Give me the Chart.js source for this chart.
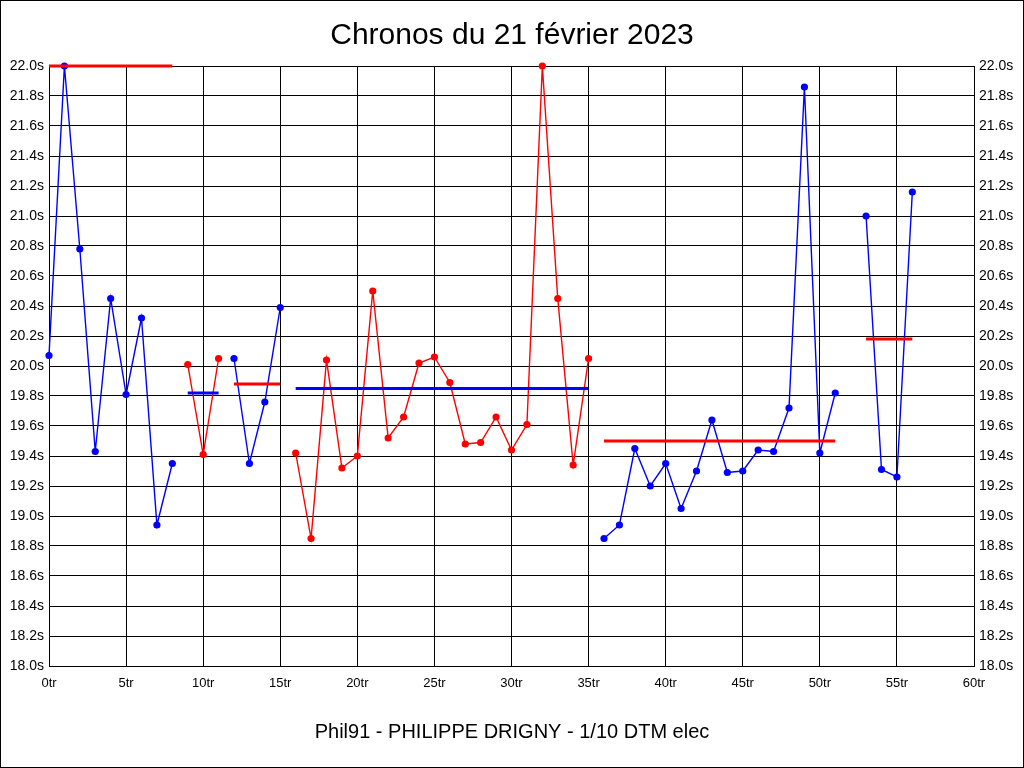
<!DOCTYPE html>
<html>
<head>
<meta charset="utf-8">
<script src="https://cdn.jsdelivr.net/npm/chart.js@4"></script>
<style>
  body { margin: 0; background: #fff; }
  canvas { display: block; }
</style>
</head>
<body>
<canvas id="chronoChart" width="1024" height="768"></canvas>
<script>
// Lap times, one array per stint
const stintStartLap = [0, 9, 12, 16, 36, 53];
const stint1Times = [20.07, 22.0, 20.78, 19.43, 20.45, 19.81, 20.32, 18.94, 19.35];
const stint2Times = [20.01, 19.41, 20.05];
const stint3Times = [20.05, 19.35, 19.76, 20.39];
const stint4Times = [19.42, 18.85, 20.04, 19.32, 19.40, 20.50, 19.52, 19.66, 20.02, 20.06,
                     19.89, 19.48, 19.49, 19.66, 19.44, 19.61, 22.0, 20.45, 19.34, 20.05];
const stint5Times = [18.85, 18.94, 19.45, 19.20, 19.35, 19.05, 19.30, 19.64, 19.29, 19.30,
                     19.44, 19.43, 19.72, 21.86, 19.42, 19.82];
const stint6Times = [21.00, 19.31, 19.26, 21.16];
const stintColors = ['#0000ff', '#ff0000', '#0000ff', '#ff0000', '#0000ff', '#0000ff'];

// Average line of each stint
const avgFrom = [0, 9, 12, 16, 36, 53];
const avgTo = [8, 11, 15, 35, 51, 56];
const avgTimes = [22.0, 19.82, 19.88, 19.85, 19.50, 20.18];
const avgColors = ['#ff0000', '#0000ff', '#ff0000', '#0000ff', '#ff0000', '#ff0000'];

const allStints = [stint1Times, stint2Times, stint3Times, stint4Times, stint5Times, stint6Times];

const datasets = [];
allStints.forEach((times, s) => {
    datasets.push({
        data: times.map((t, i) => ({ x: stintStartLap[s] + i, y: t })),
        borderColor: stintColors[s],
        backgroundColor: stintColors[s],
        borderWidth: 1.4,
        pointRadius: 3.6,
        pointBorderWidth: 0,
        pointHoverRadius: 3.6,
        tension: 0,
        clip: false,
        order: 2
    });
});
avgTimes.forEach((t, s) => {
    datasets.push({
        data: [{ x: avgFrom[s], y: t }, { x: avgTo[s], y: t }],
        borderColor: avgColors[s],
        borderWidth: 3,
        pointRadius: 0,
        clip: false,
        order: 1
    });
});

const fontFamily = 'Arial, "Liberation Sans", sans-serif';

const frame = {
    id: 'frame',
    beforeDraw(chart) {
        const c = chart.ctx;
        c.save();
        c.fillStyle = '#fff';
        c.fillRect(0, 0, chart.width, chart.height);
        c.restore();
    },
    afterDraw(chart) {
        const c = chart.ctx;
        c.save();
        c.strokeStyle = '#000';
        c.lineWidth = 1;
        c.strokeRect(0.5, 0.5, chart.width - 1, chart.height - 1);
        c.restore();
    }
};

const yTicks = {
    stepSize: 0.2,
    padding: 5,
    color: '#000',
    font: { family: fontFamily, size: 14 },
    callback: v => v.toFixed(1) + 's'
};

new Chart(document.getElementById('chronoChart').getContext('2d'), {
    type: 'line',
    data: { datasets },
    options: {
        responsive: false,
        animation: false,
        events: [],
        layout: { padding: 0 },
        scales: {
            x: {
                type: 'linear',
                min: 0,
                max: 60,
                grid: { color: '#000', drawTicks: false },
                border: { color: '#000' },
                ticks: {
                    stepSize: 5,
                    padding: 10,
                    color: '#000',
                    font: { family: fontFamily, size: 13 },
                    maxRotation: 0,
                    callback: v => v + 'tr'
                },
                afterFit: s => { s.height = 44.5; }
            },
            y: {
                position: 'left',
                min: 18,
                max: 22,
                grid: { color: '#000', drawTicks: false },
                border: { color: '#000' },
                ticks: yTicks,
                afterFit: s => { s.width = 49; }
            },
            y2: {
                position: 'right',
                min: 18,
                max: 22,
                grid: { drawOnChartArea: false, drawTicks: false },
                border: { color: '#000' },
                ticks: yTicks,
                afterFit: s => { s.width = 50; }
            }
        },
        plugins: {
            legend: { display: false },
            tooltip: { enabled: false },
            title: {
                display: true,
                text: 'Chronos du 21 février 2023',
                color: '#000',
                font: { family: fontFamily, size: 30, weight: 'normal' },
                padding: { top: 18, bottom: 12 }
            },
            subtitle: {
                display: true,
                position: 'bottom',
                text: 'Phil91 - PHILIPPE DRIGNY - 1/10 DTM elec',
                color: '#000',
                font: { family: fontFamily, size: 20, weight: 'normal' },
                padding: { top: 10, bottom: 23.5 }
            }
        }
    },
    plugins: [frame]
});
</script>
</body>
</html>
